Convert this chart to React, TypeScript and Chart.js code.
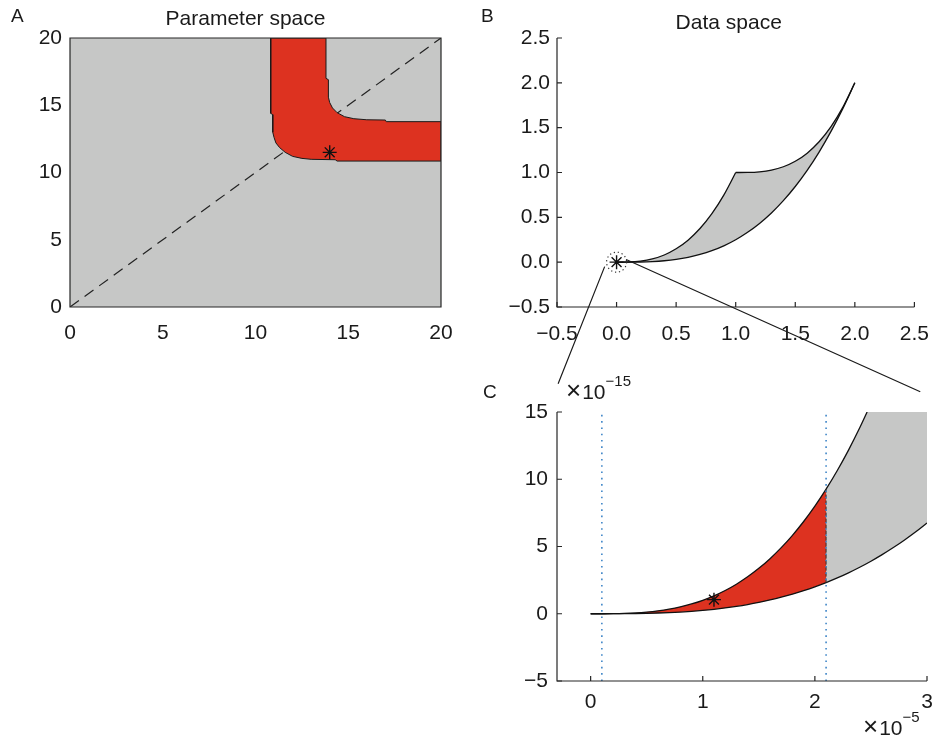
import React, { useEffect, useRef } from 'react';
import { Chart, registerables } from 'chart.js';
Chart.register(...registerables);

// ---------- Panel A : parameter space ----------
const paramRange = [0, 20];
const paramTicks = [0, 5, 10, 15, 20];
const outerEdgeX = [10.82, 10.82, 10.93, 10.93, 11.0, 11.1, 11.3, 11.6, 12.0, 12.5, 13.0, 14.3, 14.4, 20];
const outerEdgeY = [20, 14.4, 14.3, 13.0, 12.6, 12.2, 11.85, 11.5, 11.2, 11.05, 10.98, 10.95, 10.85, 10.85];
const innerEdgeX = [20, 17.05, 17.0, 16.0, 15.3, 14.8, 14.4, 14.15, 14.0, 13.93, 13.93, 13.8, 13.8];
const innerEdgeY = [13.78, 13.78, 13.9, 13.92, 14.0, 14.15, 14.45, 14.8, 15.2, 15.6, 16.9, 17.0, 20];
const diagonalX = [0, 20];
const diagonalY = [0, 20];
const starA = [14, 11.5];

// ---------- Panel B : data space ----------
const dataRangeB = [-0.5, 2.5];
const dataTicksB = [-0.5, 0, 0.5, 1, 1.5, 2, 2.5];
const bX = [0, 0.1, 0.2, 0.3, 0.4, 0.5, 0.6, 0.7, 0.8, 0.9, 1.0, 1.1, 1.2, 1.3, 1.4, 1.5, 1.6, 1.7, 1.8, 1.9, 2.0];
const bUpper = [0, 0.0018, 0.012, 0.036, 0.08, 0.149, 0.245, 0.375, 0.541, 0.748, 1.0, 1.001, 1.008, 1.027, 1.064, 1.125, 1.216, 1.343, 1.512, 1.729, 2.0];
const bLower = [0, 0.0003, 0.002, 0.007, 0.016, 0.031, 0.054, 0.086, 0.128, 0.182, 0.25, 0.333, 0.432, 0.549, 0.686, 0.844, 1.024, 1.228, 1.458, 1.715, 2.0];
const bCornerIndex = 10; // kink of the upper boundary at (1, 1)
const starB = [0, 0];

// ---------- Panel C : zoom near origin ----------
const cXRange = [-0.3, 3];
const cYRange = [-5, 15];
const cXTicks = [0, 1, 2, 3];
const cYTicks = [-5, 0, 5, 10, 15];
const cUpperX = [0, 0.1, 0.2, 0.3, 0.4, 0.5, 0.6, 0.7, 0.8, 0.9, 1.0, 1.1, 1.2, 1.3, 1.4, 1.5, 1.6, 1.7, 1.8, 1.9, 2.0, 2.1, 2.2, 2.3, 2.4, 2.466];
const cUpper = [0, 0.001, 0.008, 0.027, 0.064, 0.125, 0.216, 0.343, 0.512, 0.729, 1.0, 1.331, 1.728, 2.197, 2.744, 3.375, 4.096, 4.913, 5.832, 6.859, 8.0, 9.261, 10.648, 12.167, 13.824, 15];
const cLowerX = [0, 0.1, 0.2, 0.3, 0.4, 0.5, 0.6, 0.7, 0.8, 0.9, 1.0, 1.1, 1.2, 1.3, 1.4, 1.5, 1.6, 1.7, 1.8, 1.9, 2.0, 2.1, 2.2, 2.3, 2.4, 2.5, 2.6, 2.7, 2.8, 2.9, 3.0];
const cLower = [0, 0.0003, 0.002, 0.007, 0.016, 0.031, 0.054, 0.086, 0.128, 0.182, 0.25, 0.333, 0.432, 0.549, 0.686, 0.844, 1.024, 1.228, 1.458, 1.715, 2.0, 2.315, 2.662, 3.042, 3.456, 3.906, 4.394, 4.921, 5.488, 6.097, 6.75];
const cCuts = [0.1, 2.1];
const starC = [1.1, 1.05];
const cYExponent = '\u221215';
const cXExponent = '\u22125';

// zoom connector end points (B data coords -> C data coords)
const linkFromB = [[-0.1, -0.05], [0.08, 0.03]];
const linkToC = [[-0.29, 17.1], [2.94, 16.5]];

const FONT = '"Liberation Sans", Arial, Helvetica, sans-serif';
const TEXT = '#1a1a1a';
const AXIS = '#262626';
const RED = '#dd3220';
const GRAY = '#c6c7c6';
const BLUE = '#3f86c8';

const xy = (xs: number[], ys: number[]) => xs.map((x, i) => ({ x, y: ys[i] }));
const fmt1 = (v: number) => v.toFixed(1).replace('-', '\u2212');
const fmt0 = (v: number) => String(v).replace('-', '\u2212');

function axisOpts(horizontal: boolean, range: number[], ticks: number[], fmt: (v: number) => string, fit: number, pad: number) {
  return {
    type: 'linear',
    position: horizontal ? 'bottom' : 'left',
    min: range[0],
    max: range[1],
    afterBuildTicks: (s: any) => { s.ticks = ticks.map((v) => ({ value: v })); },
    afterFit: (s: any) => { if (horizontal) s.height = fit; else s.width = fit; },
    grid: { display: false, drawTicks: false },
    border: { display: false },
    ticks: {
      padding: pad,
      color: TEXT,
      autoSkip: false,
      maxRotation: 0,
      font: { family: FONT, size: 21, lineHeight: 1.2 },
      callback: (v: any) => fmt(Number(v)),
    },
  };
}

type Decor = {
  box: boolean;
  inTicks: boolean;
  title?: string;
  titleDx?: number;
  titleY?: number;
  letter: string;
  letterX: number;
  letterY: number;
  extra?: (chart: any) => void;
};

function decorPlugin(d: Decor) {
  return {
    id: 'decor',
    afterDatasetsDraw(chart: any) {
      const { ctx, chartArea: a, scales } = chart;
      ctx.save();
      ctx.strokeStyle = AXIS;
      ctx.lineWidth = 1.2;
      ctx.setLineDash([]);
      ctx.beginPath();
      if (d.box) {
        ctx.rect(a.left, a.top, a.right - a.left, a.bottom - a.top);
      } else {
        ctx.moveTo(a.left, a.top);
        ctx.lineTo(a.left, a.bottom);
        ctx.lineTo(a.right, a.bottom);
      }
      ctx.stroke();
      if (d.inTicks) {
        ctx.beginPath();
        for (const t of scales.x.ticks) {
          const px = scales.x.getPixelForValue(t.value);
          ctx.moveTo(px, a.bottom);
          ctx.lineTo(px, a.bottom - 5);
        }
        for (const t of scales.y.ticks) {
          const py = scales.y.getPixelForValue(t.value);
          ctx.moveTo(a.left, py);
          ctx.lineTo(a.left + 5, py);
        }
        ctx.stroke();
      }
      ctx.fillStyle = TEXT;
      ctx.textBaseline = 'alphabetic';
      if (d.title) {
        ctx.font = `21px ${FONT}`;
        ctx.textAlign = 'center';
        ctx.fillText(d.title, (a.left + a.right) / 2 + (d.titleDx || 0), d.titleY || 25);
      }
      ctx.font = `19px ${FONT}`;
      ctx.textAlign = 'left';
      ctx.fillText(d.letter, d.letterX, d.letterY);
      if (d.extra) d.extra(chart);
      ctx.restore();
    },
  };
}

function drawExponent(ctx: any, x: number, y: number, exp: string) {
  ctx.textAlign = 'left';
  ctx.fillStyle = TEXT;
  ctx.font = `26px ${FONT}`;
  ctx.fillText('\u00d7', x, y);
  let w = ctx.measureText('\u00d7').width;
  ctx.font = `21px ${FONT}`;
  ctx.fillText('10', x + w + 1, y);
  w += 1 + ctx.measureText('10').width;
  ctx.font = `15px ${FONT}`;
  ctx.fillText(exp, x + w, y - 13);
}

const baseOptions = (padding: any) => ({
  animation: false,
  responsive: false,
  maintainAspectRatio: false,
  events: [],
  layout: { padding },
  plugins: { legend: { display: false }, tooltip: { enabled: false }, title: { display: false } },
  elements: { point: { radius: 0 }, line: { tension: 0 } },
});

const starDs = (p: number[], r: number) => ({
  data: [{ x: p[0], y: p[1] }],
  showLine: false,
  pointStyle: 'star',
  pointRadius: r,
  pointBorderColor: '#111',
  pointBorderWidth: 1.4,
  pointBackgroundColor: '#111',
});

const curveDs = (pts: { x: number; y: number }[]) => ({
  data: pts,
  borderColor: '#111',
  borderWidth: 1.3,
  cubicInterpolationMode: 'monotone',
});

export default function App() {
  const aRef = useRef<HTMLCanvasElement>(null);
  const bRef = useRef<HTMLCanvasElement>(null);
  const cRef = useRef<HTMLCanvasElement>(null);
  const oRef = useRef<HTMLCanvasElement>(null);

  useEffect(() => {
    const charts: Chart[] = [];

    // ---------- A ----------
    const redPolyA = [...xy(outerEdgeX, outerEdgeY), ...xy(innerEdgeX, innerEdgeY), { x: outerEdgeX[0], y: outerEdgeY[0] }];
    const bgA = [
      { x: paramRange[0], y: paramRange[0] },
      { x: paramRange[1], y: paramRange[0] },
      { x: paramRange[1], y: paramRange[1] },
      { x: paramRange[0], y: paramRange[1] },
    ];
    const chartA = new Chart(aRef.current as HTMLCanvasElement, {
      type: 'line',
      data: {
        datasets: [
          starDs(starA, 7) as any,
          { data: redPolyA, fill: 'shape', backgroundColor: RED, borderColor: '#1a1a1a', borderWidth: 1 },
          { data: xy(diagonalX, diagonalY), borderColor: '#222', borderWidth: 1.2, borderDash: [11, 7] },
          { data: bgA, fill: 'shape', backgroundColor: GRAY, borderColor: 'rgba(0,0,0,0)', borderWidth: 0 },
        ],
      },
      options: {
        ...baseOptions({ left: 0, top: 38, right: 34, bottom: 0 }),
        scales: {
          x: axisOpts(true, paramRange, paramTicks, fmt0, 43, 14),
          y: axisOpts(false, paramRange, paramTicks, fmt0, 70, 8),
        },
      } as any,
      plugins: [decorPlugin({ box: true, inTicks: false, title: 'Parameter space', titleDx: -10, titleY: 25, letter: 'A', letterX: 11, letterY: 22 })],
    });
    charts.push(chartA);

    // ---------- B ----------
    const upperPts = xy(bX, bUpper);
    const grayPolyB = [...upperPts, ...xy(bX, bLower).reverse()];
    const chartB = new Chart(bRef.current as HTMLCanvasElement, {
      type: 'line',
      data: {
        datasets: [
          starDs(starB, 7) as any,
          curveDs(upperPts.slice(0, bCornerIndex + 1)) as any,
          curveDs(upperPts.slice(bCornerIndex)) as any,
          curveDs(xy(bX, bLower)) as any,
          { data: grayPolyB, fill: 'shape', backgroundColor: GRAY, borderColor: 'rgba(0,0,0,0)', borderWidth: 0 },
        ],
      },
      options: {
        ...baseOptions({ left: 0, top: 38, right: 17, bottom: 0 }),
        scales: {
          x: axisOpts(true, dataRangeB, dataTicksB, fmt1, 43, 15),
          y: axisOpts(false, dataRangeB, dataTicksB, fmt1, 77, 7),
        },
      } as any,
      plugins: [decorPlugin({
        box: false, inTicks: true, title: 'Data space', titleDx: -7, titleY: 29, letter: 'B', letterX: 1, letterY: 22,
        extra: (chart: any) => {
          const { ctx, scales } = chart;
          const cx = scales.x.getPixelForValue(starB[0]);
          const cy = scales.y.getPixelForValue(starB[1]);
          ctx.strokeStyle = '#333';
          ctx.lineWidth = 1.2;
          ctx.setLineDash([1.2, 2.8]);
          ctx.beginPath();
          ctx.arc(cx, cy, 10, 0, Math.PI * 2);
          ctx.stroke();
          ctx.setLineDash([]);
        },
      })],
    });
    charts.push(chartB);

    // ---------- C ----------
    const cutIdx = cUpperX.indexOf(cCuts[1]);
    const redPolyC = [
      ...xy(cUpperX.slice(0, cutIdx + 1), cUpper.slice(0, cutIdx + 1)),
      ...xy(cLowerX.slice(0, cutIdx + 1), cLower.slice(0, cutIdx + 1)).reverse(),
    ];
    const grayPolyC = [
      ...xy(cUpperX.slice(cutIdx), cUpper.slice(cutIdx)),
      { x: cXRange[1], y: cYRange[1] },
      ...xy(cLowerX.slice(cutIdx), cLower.slice(cutIdx)).reverse(),
    ];
    const chartC = new Chart(cRef.current as HTMLCanvasElement, {
      type: 'line',
      data: {
        datasets: [
          starDs(starC, 7) as any,
          ...cCuts.map((c) => ({ data: [{ x: c, y: cYRange[0] }, { x: c, y: cYRange[1] }], borderColor: BLUE, borderWidth: 1.6, borderDash: [1.6, 4.7] })),
          { data: [{ x: cCuts[1], y: cLower[cutIdx] }, { x: cCuts[1], y: cUpper[cutIdx] }], borderColor: '#333', borderWidth: 1, borderDash: [4, 2] },
          curveDs(xy(cUpperX, cUpper)) as any,
          curveDs(xy(cLowerX, cLower)) as any,
          { data: redPolyC, fill: 'shape', backgroundColor: RED, borderColor: 'rgba(0,0,0,0)', borderWidth: 0 },
          { data: grayPolyC, fill: 'shape', backgroundColor: GRAY, borderColor: 'rgba(0,0,0,0)', borderWidth: 0 },
        ],
      },
      options: {
        ...baseOptions({ left: 0, top: 62, right: 17, bottom: 0 }),
        scales: {
          x: axisOpts(true, cXRange, cXTicks, fmt0, 61, 9),
          y: axisOpts(false, cYRange, cYTicks, fmt0, 77, 9),
        },
      } as any,
      plugins: [decorPlugin({
        box: false, inTicks: true, letter: 'C', letterX: 3, letterY: 48,
        extra: (chart: any) => {
          const a = chart.chartArea;
          drawExponent(chart.ctx, a.left + 9, a.top - 13.5, cYExponent);
          drawExponent(chart.ctx, a.right - 64, a.bottom + 54, cXExponent);
        },
      })],
    });
    charts.push(chartC);

    // ---------- connectors ----------
    const o = oRef.current as HTMLCanvasElement;
    const octx = o.getContext('2d') as CanvasRenderingContext2D;
    octx.clearRect(0, 0, o.width, o.height);
    octx.strokeStyle = '#1a1a1a';
    octx.lineWidth = 1.2;
    octx.beginPath();
    for (let i = 0; i < linkFromB.length; i++) {
      const x1 = 480 + chartB.scales.x.getPixelForValue(linkFromB[i][0]);
      const y1 = chartB.scales.y.getPixelForValue(linkFromB[i][1]);
      const x2 = 480 + chartC.scales.x.getPixelForValue(linkToC[i][0]);
      const y2 = 350 + chartC.scales.y.getPixelForValue(linkToC[i][1]);
      octx.moveTo(x1, y1);
      octx.lineTo(x2, y2);
    }
    octx.stroke();

    return () => {
      charts.forEach((c) => c.destroy());
    };
  }, []);

  const abs = (left: number, top: number, w: number, h: number): React.CSSProperties => ({
    position: 'absolute', left, top, width: w, height: h,
  });

  return (
    <div style={{ position: 'absolute', left: 0, top: 0, width: 944, height: 742, background: '#fff', overflow: 'hidden' }}>
      <canvas ref={aRef} width={475} height={350} style={abs(0, 0, 475, 350)} />
      <canvas ref={bRef} width={464} height={350} style={abs(480, 0, 464, 350)} />
      <canvas ref={cRef} width={464} height={392} style={abs(480, 350, 464, 392)} />
      <canvas ref={oRef} width={944} height={742} style={{ ...abs(0, 0, 944, 742), pointerEvents: 'none' }} />
    </div>
  );
}
